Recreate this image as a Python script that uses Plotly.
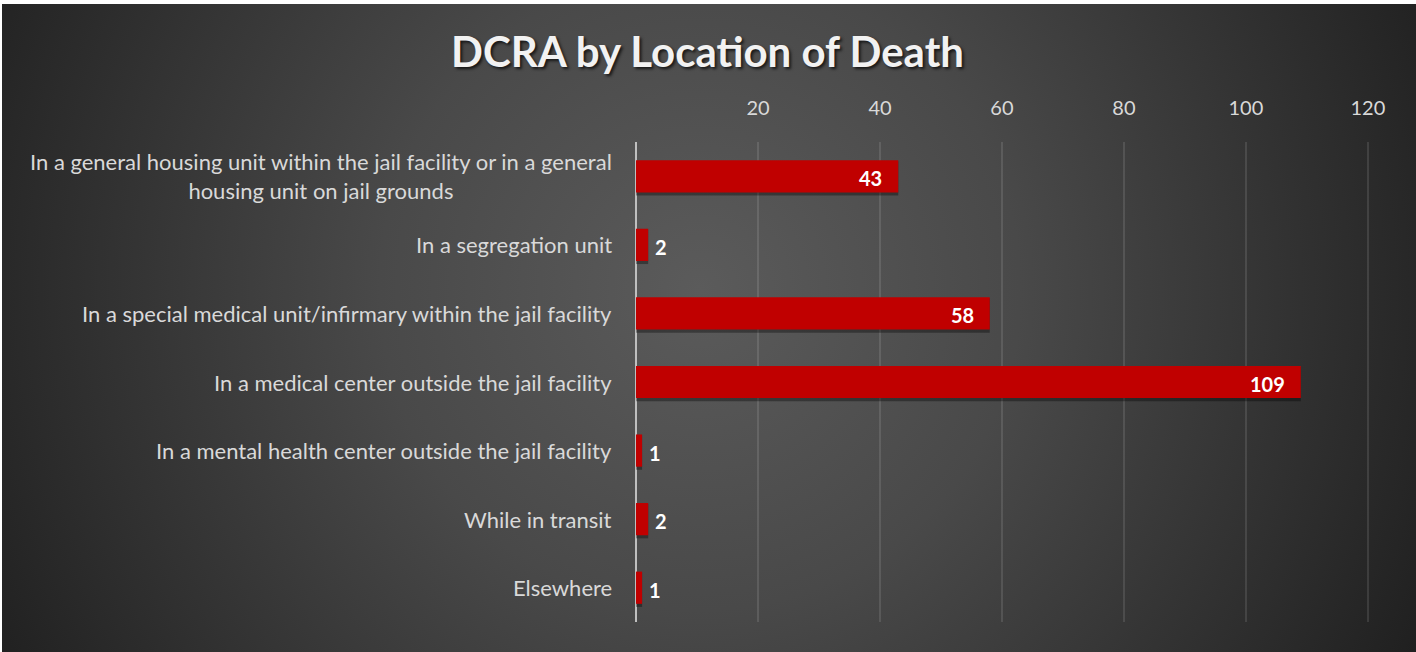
import base64
import plotly.graph_objects as go

categories = [
    "In a general housing unit within the jail facility or in a general<br>housing unit on jail grounds",
    "In a segregation unit",
    "In a special medical unit/infirmary within the jail facility",
    "In a medical center outside the jail facility",
    "In a mental health center outside the jail facility",
    "While in transit",
    "Elsewhere",
]
values = [43, 2, 58, 109, 1, 2, 1]
tick_vals = [20, 40, 60, 80, 100, 120]
title_text = "DCRA by Location of Death"

W, H = 1416, 652
L, R, T, B = 636, 42, 142, 30
pw, ph = W - L - R, H - T - B

bar_color = "#c00000"
font_family = "Lato, 'Open Sans', sans-serif"

svg = f'''<svg xmlns="http://www.w3.org/2000/svg" width="{W}" height="{H}" viewBox="0 0 {W} {H}">
<defs><radialGradient id="g" gradientUnits="userSpaceOnUse" cx="700" cy="290" r="800">
<stop offset="0" stop-color="#5b5b5b"/><stop offset="0.4" stop-color="#494949"/><stop offset="1" stop-color="#202020"/></radialGradient></defs>
<rect x="0" y="0" width="{W}" height="{H}" fill="#ffffff"/>
<rect x="2" y="4" width="{W-2}" height="{H-4}" fill="url(#g)"/>
</svg>'''
bg_uri = "data:image/svg+xml;base64," + base64.b64encode(svg.encode()).decode()

fig = go.Figure()
# soft shadow
fig.add_trace(go.Bar(
    y=categories, x=values, orientation="h",
    marker=dict(color="rgba(0,0,0,0.35)", line=dict(width=0)),
    width=0.5, offset=-0.22, hoverinfo="skip", showlegend=False,
))
fig.add_trace(go.Bar(
    y=categories, x=values, orientation="h",
    marker=dict(color=bar_color, line=dict(width=0)),
    width=0.47, showlegend=False,
))

annotations = []
for c, v in zip(categories, values):
    annotations.append(dict(
        x=0, xref="paper", y=c, yref="y", text=c, showarrow=False,
        xanchor="right", xshift=-22, align="center",
        font=dict(family=font_family, size=22, color="#d9d9d9"),
    ))
    inside = v > 10
    annotations.append(dict(
        x=v, xref="x", y=c, yref="y", text=f"<b>{v}</b>", showarrow=False,
        xanchor="right" if inside else "left", xshift=-14 if inside else 5,
        yshift=-2,
        font=dict(family=font_family, size=20, color="#ffffff"),
    ))

fig.update_layout(
    width=W, height=H,
    margin=dict(l=L, r=R, t=T, b=B, pad=0),
    paper_bgcolor="#ffffff", plot_bgcolor="rgba(0,0,0,0)",
    barmode="overlay",
    title=dict(
        text=f"<b>{title_text}</b>", x=(440 + 975) / 2 / W, xanchor="center",
        y=1 - 52 / H, yanchor="middle",
        font=dict(family=font_family, size=42, color="#f2f2f2",
                  shadow="2px 2px 3px rgba(0,0,0,0.7)"),
    ),
    images=[dict(source=bg_uri, xref="paper", yref="paper",
                 x=-L / pw, y=1 + T / ph, sizex=W / pw, sizey=H / ph,
                 xanchor="left", yanchor="top", sizing="stretch", layer="below")],
    xaxis=dict(
        side="top", range=[0, 121], tickvals=tick_vals,
        showgrid=True, gridcolor="rgba(255,255,255,0.11)", gridwidth=1.5,
        zeroline=True, zerolinecolor="#bfbfbf", zerolinewidth=2,
        showline=False, ticks="", ticklabelstandoff=22,
        tickfont=dict(family=font_family, size=20, color="#d9d9d9"),
        fixedrange=True,
    ),
    yaxis=dict(
        autorange="reversed", showticklabels=False, showgrid=False,
        zeroline=False, showline=False, ticks="", fixedrange=True,
    ),
    annotations=annotations,
)

fig.write_html(
    "out.html",
    config={"displayModeBar": False},
    post_script="document.body.style.margin='0';document.body.style.overflow='hidden';",
)
